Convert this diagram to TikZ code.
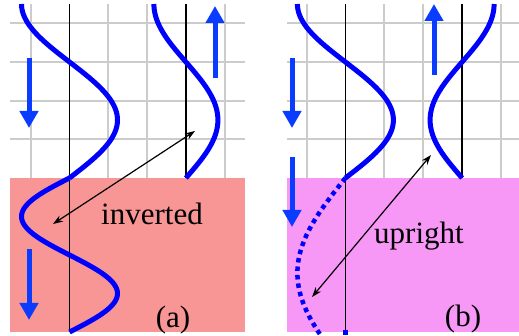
\documentclass[tikz,border=0pt]{standalone}
\usepackage{fontspec}
\setmainfont{Liberation Serif}
\usetikzlibrary{arrows.meta}
\definecolor{gridgray}{RGB}{204,204,204}
\definecolor{pinka}{RGB}{248,150,150}
\definecolor{pinkb}{RGB}{247,152,247}
\definecolor{wave}{RGB}{0,0,255}
\definecolor{arrowblue}{RGB}{10,60,255}
\tikzset{
  gridline/.style={gridgray,line width=2pt},
  axisline/.style={black,line width=1.4pt},
  wavecurve/.style={wave,line width=5pt,line join=round},
  dotwave/.style={wave,line width=4.5pt,dash pattern=on 4.5pt off 4pt},
  bluearrow/.style={arrowblue,line width=5pt,-{Triangle[width=18pt,length=17pt]}},
  blackarrow/.style={black,line width=1.2pt,{Stealth[length=10pt,width=7pt]}-{Stealth[length=10pt,width=7pt]}},
  lbl/.style={font=\fontsize{31}{36}\selectfont,inner sep=0pt}
}
\begin{document}
\begin{tikzpicture}[x=1pt,y=-1pt]
\useasboundingbox (0,0) rectangle (519,336);
% grids
\foreach \yy in {23.3,62,100.7,139.4} {
  \draw[gridline] (10,\yy) -- (245,\yy);
  \draw[gridline] (287,\yy) -- (519,\yy);
}
\foreach \xx in {30.7,108.3,147.1,224.7} \draw[gridline] (\xx,4) -- (\xx,178);
\foreach \xx in {306.5,384.3,423.2,501} \draw[gridline] (\xx,4) -- (\xx,178);
% media
\fill[pinka] (10,178) rectangle (245,332);
\fill[pinkb] (287,178) rectangle (519,332);
% axis lines
\draw[axisline] (69.5,4) -- (69.5,332);
\draw[axisline] (185.9,4) -- (185.9,178);
\draw[axisline] (345.4,4) -- (345.4,332);
\draw[axisline] (462.1,4) -- (462.1,178);
% panel (a) waves
\draw[wavecurve] plot[domain=4:178,samples=90,variable=\t] ({69.5-48*cos(1.551724*(\t-4))},\t);
\draw[wavecurve] plot[domain=178:332,samples=90,variable=\t] ({69.5-48*sin(2.337662*(\t-178))},\t);
\draw[wavecurve] plot[domain=4:178,samples=90,variable=\t] ({185.9-32*cos(1.551724*(\t-4))},\t);
% panel (b) waves
\draw[wavecurve] plot[domain=4:178,samples=90,variable=\t] ({345.4-48*cos(1.551724*(\t-4))},\t);
\draw[dotwave] plot[domain=178:334,samples=90,variable=\t] ({345.4-48*sin(0.947368*(\t-178))},\t);
\draw[wavecurve] plot[domain=4:178,samples=90,variable=\t] ({462.1+32*cos(1.551724*(\t-4))},\t);
\fill[wave] (343.2,330.5) rectangle (347.6,335);
% blue arrows
\coordinate (a1s) at (29,58);   \coordinate (a1e) at (29,128);
\coordinate (a2s) at (215,78);  \coordinate (a2e) at (215,6);
\coordinate (a3s) at (29,249);  \coordinate (a3e) at (29,320);
\coordinate (b1s) at (292,58);  \coordinate (b1e) at (292,128);
\coordinate (b2s) at (292,157); \coordinate (b2e) at (292,227);
\coordinate (b3s) at (434,75);  \coordinate (b3e) at (434,4);
\draw[bluearrow] (a1s) -- (a1e);
\draw[bluearrow] (a2s) -- (a2e);
\draw[bluearrow] (a3s) -- (a3e);
\draw[bluearrow] (b1s) -- (b1e);
\draw[bluearrow] (b2s) -- (b2e);
\draw[bluearrow] (b3s) -- (b3e);
% black arrows
\coordinate (ia) at (195,131); \coordinate (ib) at (53,224);
\coordinate (ua) at (431,155); \coordinate (ub) at (312,297);
\draw[blackarrow] (ia) -- (ib);
\draw[blackarrow] (ua) -- (ub);
% labels
\node[lbl] (tinv) at (152,214) {inverted};
\node[lbl] (tup) at (419,236) {upright};
\node[lbl] (ta) at (173,320) {(a)};
\node[lbl] (tb) at (463,319) {(b)};
\end{tikzpicture}
\end{document}
